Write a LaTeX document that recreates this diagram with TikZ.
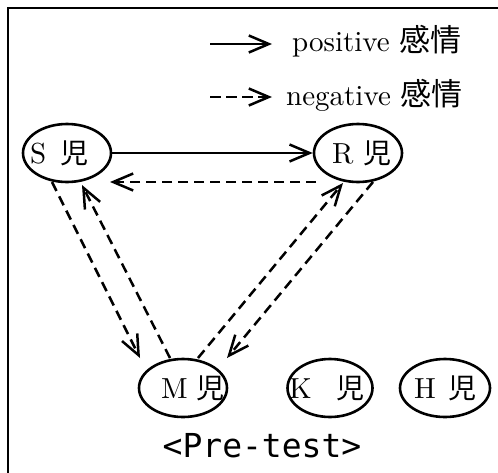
\documentclass[tikz,border=0pt]{standalone}
\usepackage{fontspec}
\setmainfont{lmroman10-regular}[Extension=.otf]
\newfontfamily\cjk{Noto Sans CJK JP}
\newfontfamily\gothic{DejaVu Sans Mono}
\newcommand\kidji{{\cjk\fontsize{28}{30}\selectfont 児}}
\newcommand\kidtext[3]{\makebox[0pt][l]{\hspace{#1}#2\hspace{#3}\kidji}}
\usetikzlibrary{arrows.meta,shapes.geometric}
\tikzset{
  kid/.style={draw, line width=2.6pt, ellipse, minimum width=88pt, minimum height=58pt, inner sep=0pt, font=\fontsize{29}{30}\selectfont},
  posarrow/.style={line width=2.5pt, -{Straight Barb[length=20pt,width=17pt,line width=2.5pt]}},
  negarrow/.style={posarrow, dash pattern=on 10pt off 6pt},
  lbl/.style={anchor=base west, inner sep=0pt, font=\fontsize{29}{32}\selectfont},
}
\begin{document}
\begin{tikzpicture}[x=1pt,y=-1pt]
\useasboundingbox (0,0) rectangle (498,472);
\begin{scope}
\clip (0,0) rectangle (498,472);
\draw[line width=2.4pt] (8,8) rectangle (520,500);
\end{scope}
% legend
\coordinate (p1) at (210,44);
\coordinate (p2) at (272,44);
\coordinate (n1) at (210,97);
\coordinate (n2) at (272,97);
\draw[posarrow] (p1) -- (p2);
\draw[negarrow, dash pattern=on 11pt off 5pt] (n1) -- (n2);
\node[lbl] (plbl) at (292,51) {positive {\cjk\fontsize{31}{32}\selectfont 感情}};
\node[lbl] (nlbl) at (286,105) {negative {\cjk\fontsize{31}{32}\selectfont 感情}};
% kids
\node[kid] (S) at (67,153) {\kidtext{-37pt}{S}{14.4pt}};
\node[kid] (R) at (358,153) {\kidtext{-26pt}{R}{10.2pt}};
\node[kid] (M) at (183,388) {\kidtext{-22pt}{M}{8.9pt}};
\node[kid, minimum width=85pt] (K) at (330,388) {\kidtext{-41pt}{K}{25.4pt}};
\node[kid, minimum width=90pt] (H) at (445,388) {\kidtext{-31pt}{H}{12.75pt}};
\node[font=\gothic\fontsize{33}{36}\selectfont, inner sep=0pt] (title) at (262,446) {<Pre-test>};
% connector ends
\coordinate (rs1) at (316,182);
\coordinate (rs2) at (110,182);
\coordinate (sm1) at (52,182);
\coordinate (sm2) at (140,358);
\coordinate (ms1) at (170,358);
\coordinate (ms2) at (82,185);
\coordinate (mr1) at (198,358);
\coordinate (mr2) at (343,183);
\coordinate (rm1) at (373,182);
\coordinate (rm2) at (227,358);
% connectors
\draw[posarrow] (S.east) -- (R.west);
\draw[negarrow] (rs1) -- (rs2);
\draw[negarrow] (sm1) -- (sm2);
\draw[negarrow] (ms1) -- (ms2);
\draw[negarrow] (mr1) -- (mr2);
\draw[negarrow] (rm1) -- (rm2);
\end{tikzpicture}
\end{document}
